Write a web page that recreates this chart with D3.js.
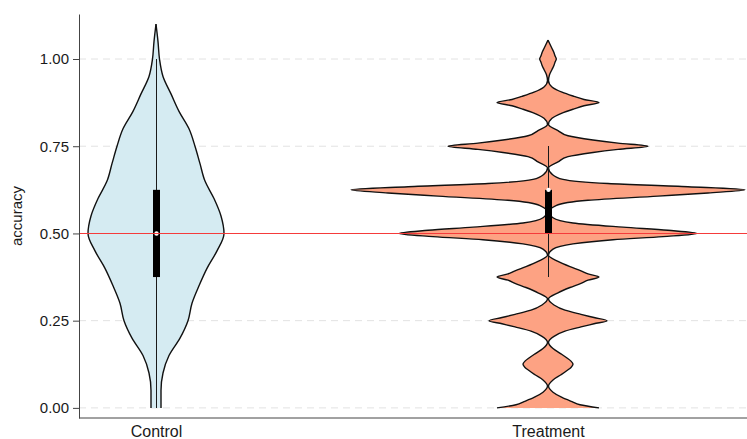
<!DOCTYPE html>

<head>
  <meta charset="utf-8">
  <script src="https://d3js.org/d3.v7.min.js"></script>
  <style>
    body {
      margin: 0;
      background: #fff;
    }

    text {
      font-family: "Liberation Sans", Arial, sans-serif;
      fill: #1a1a1a;
    }

    .grid line {
      stroke: #e2e2e2;
      stroke-dasharray: 7, 5;
    }

    .y-axis path,
    .y-axis line,
    .x-line {
      stroke: #444;
    }

    .y-axis text {
      font-size: 15px;
    }

    .x-axis path {
      display: none;
    }

    .x-axis text {
      font-size: 16px;
    }

    .side {
      fill: none;
      stroke: #111;
      stroke-width: 1.4px;
    }

    .ref-line {
      stroke: #f53b3b;
      stroke-width: 1px;
      shape-rendering: crispEdges;
    }

    .whisker {
      stroke: #1a1a1a;
      stroke-width: 1px;
      shape-rendering: crispEdges;
    }
  </style>
</head>

<body>

  <svg id="chart" width="747" height="439"></svg>

  <script>
    // data
    var groups = ["Control", "Treatment"];
    var yTicks = [0, 0.25, 0.5, 0.75, 1];
    var refValue = 0.5;

    // [accuracy, density]
    var controlDensity = [
      [0.00, 0.25], [0.05, 0.25], [0.10, 0.35], [0.15, 0.65], [0.20, 1.2],
      [0.25, 1.6], [0.30, 1.8], [0.35, 2.15], [0.40, 2.55], [0.45, 3.05],
      [0.50, 3.4], [0.55, 3.25], [0.60, 2.9], [0.65, 2.45], [0.70, 2.2],
      [0.75, 1.95], [0.80, 1.65], [0.85, 1.15], [0.90, 0.75], [0.95, 0.35],
      [1.00, 0.175], [1.05, 0.1], [1.10, 0]
    ];

    var treatmentDensity = [
      [0.000, 2.55], [0.009, 1.6], [0.018, 1.2], [0.030, 0.7], [0.045, 0.25], [0.0625, 0.025],
      [0.080, 0.25], [0.095, 0.65], [0.107, 0.95], [0.116, 1.15], [0.125, 1.25], [0.134, 1.15], [0.143, 0.95], [0.155, 0.65], [0.170, 0.25], [0.1875, 0.025],
      [0.205, 0.3], [0.220, 0.85], [0.232, 1.65], [0.241, 2.3], [0.250, 2.95], [0.259, 2.3], [0.268, 1.65], [0.280, 0.85], [0.295, 0.3], [0.3125, 0.025],
      [0.330, 0.5], [0.345, 1.1], [0.357, 1.65], [0.366, 2.0], [0.375, 2.55], [0.384, 2.0], [0.393, 1.65], [0.405, 1.1], [0.420, 0.5], [0.4375, 0.025],
      [0.455, 0.25], [0.470, 1.25], [0.482, 3.25], [0.491, 5.75], [0.500, 7.45], [0.509, 6.0], [0.518, 3.75], [0.530, 1.25], [0.545, 0.25], [0.5625, 0.05],
      [0.580, 0.4], [0.595, 2.0], [0.607, 5.5], [0.616, 8.0], [0.625, 9.85], [0.634, 7.0], [0.643, 3.0], [0.655, 0.75], [0.670, 0.2], [0.6875, 0.025],
      [0.705, 0.5], [0.720, 1.0], [0.732, 2.25], [0.741, 3.5], [0.750, 5.0], [0.759, 3.5], [0.768, 2.25], [0.780, 1.0], [0.795, 0.5], [0.8125, 0.025],
      [0.830, 0.2], [0.845, 0.7], [0.857, 1.3], [0.866, 1.8], [0.875, 2.55], [0.884, 1.8], [0.893, 1.3], [0.905, 0.7], [0.920, 0.2], [0.9375, 0.025],
      [0.955, 0.075], [0.970, 0.2], [0.982, 0.3], [0.991, 0.35], [1.000, 0.415], [1.009, 0.35], [1.018, 0.3], [1.030, 0.2], [1.045, 0.075], [1.054, 0]
    ];

    // min, q1, median, q3, max
    var controlBox = [0, 0.375, 0.5, 0.625, 1];
    var treatmentBox = [0.375, 0.5, 0.625, 0.625, 0.75];

    var fills = ["#d5ebf2", "#fda283"];

    var violins = [
      { id: groups[0], density: controlDensity, box: controlBox, fill: fills[0] },
      { id: groups[1], density: treatmentDensity, box: treatmentBox, fill: fills[1] }
    ];

    var svg = d3.select("#chart"),
      margin = { top: 14, right: 0, bottom: 21, left: 79 },
      width = 747,
      height = 439;

    var y = d3.scaleLinear()
      .domain([-0.029, 1.129])
      .range([height - margin.bottom, margin.top]);

    var x = d3.scalePoint()
      .domain(groups)
      .range([margin.left + 77, margin.left + 469]);

    var w = d3.scaleLinear()
      .domain([0, d3.max(violins, v => d3.max(v.density, d => d[1]))])
      .range([0, 197]);

    // dashed grid
    svg.append("g")
      .attr("class", "grid")
      .selectAll("line")
      .data(yTicks)
      .join("line")
      .attr("x1", margin.left)
      .attr("x2", width)
      .attr("y1", d => y(d))
      .attr("y2", d => y(d));

    var area = cx => d3.area()
      .curve(d3.curveMonotoneY)
      .y(d => y(d[0]))
      .x0(d => cx - w(d[1]))
      .x1(d => cx + w(d[1]));

    var side = (cx, s) => d3.line()
      .curve(d3.curveMonotoneY)
      .y(d => y(d[0]))
      .x(d => cx + s * w(d[1]));

    var g = svg.selectAll(".violin")
      .data(violins)
      .join("g")
      .attr("class", "violin");

    g.append("path")
      .attr("fill", d => d.fill)
      .attr("d", d => area(x(d.id))(d.density.slice().reverse()));

    g.append("path")
      .attr("class", "side")
      .attr("d", d => side(x(d.id), -1)(d.density.slice().reverse()));

    g.append("path")
      .attr("class", "side")
      .attr("d", d => side(x(d.id), 1)(d.density.slice().reverse()));

    // box plots
    g.append("line")
      .attr("class", "whisker")
      .attr("x1", d => Math.round(x(d.id)) + 0.5)
      .attr("x2", d => Math.round(x(d.id)) + 0.5)
      .attr("y1", d => y(d.box[0]))
      .attr("y2", d => y(d.box[4]));

    // reference line
    svg.append("line")
      .attr("class", "ref-line")
      .attr("x1", margin.left)
      .attr("x2", width)
      .attr("y1", Math.round(y(refValue)) + 0.5)
      .attr("y2", Math.round(y(refValue)) + 0.5);

    g.append("rect")
      .attr("x", d => Math.round(x(d.id)) + 0.5 - 3.5)
      .attr("width", 7)
      .attr("y", d => y(d.box[3]))
      .attr("height", d => y(d.box[1]) - y(d.box[3]))
      .attr("fill", "#000");

    g.append("circle")
      .attr("cx", d => Math.round(x(d.id)) + 0.5)
      .attr("cy", d => y(d.box[2]))
      .attr("r", 2.2)
      .attr("fill", "#fff");

    // axes
    svg.append("g")
      .attr("class", "y-axis")
      .attr("transform", "translate(" + margin.left + ",0)")
      .call(d3.axisLeft(y).tickValues(yTicks).tickFormat(d3.format(".2f"))
        .tickSize(6).tickSizeOuter(0).tickPadding(4));

    svg.append("line")
      .attr("class", "x-line")
      .attr("x1", margin.left)
      .attr("x2", width)
      .attr("y1", height - margin.bottom)
      .attr("y2", height - margin.bottom);

    svg.append("g")
      .attr("class", "x-axis")
      .attr("transform", "translate(0," + (height - margin.bottom) + ")")
      .call(d3.axisBottom(x).tickSize(0).tickPadding(8));

    svg.append("text")
      .attr("transform", "translate(22," + ((margin.top + height - margin.bottom) / 2) + ") rotate(-90)")
      .attr("text-anchor", "middle")
      .style("font-size", "15px")
      .text("accuracy");
  </script>
</body>
